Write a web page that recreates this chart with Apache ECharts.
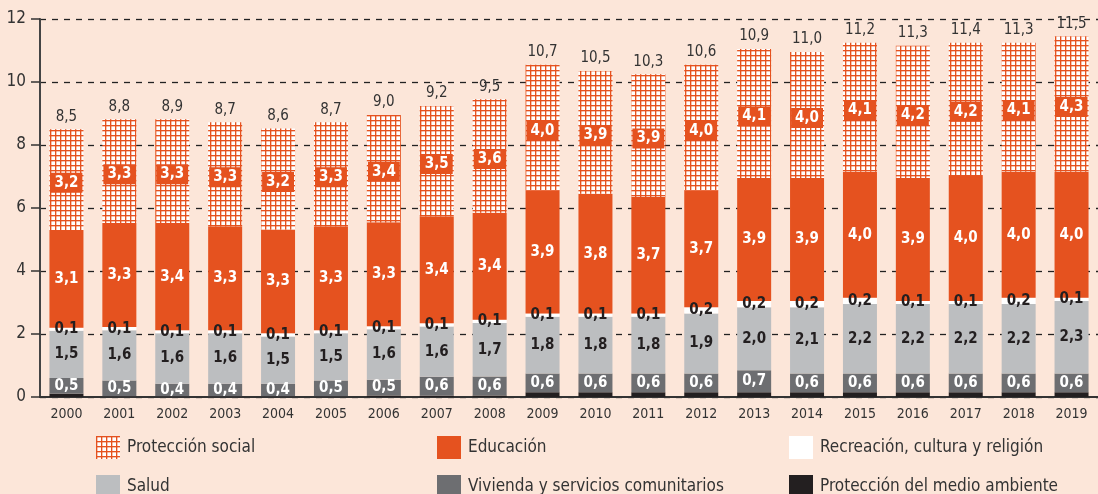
<!DOCTYPE html>
<html>
<head>
<meta charset="utf-8">
<script src="https://cdn.jsdelivr.net/npm/echarts@6/dist/echarts.min.js"></script>
<style>
  html, body { margin: 0; padding: 0; background: #fce6d9; }
  #chart { width: 1098px; height: 494px; }
</style>
</head>
<body>
<div id="chart"></div>
<script>
const years = ['2000', '2001', '2002', '2003', '2004', '2005', '2006', '2007', '2008', '2009',
  '2010', '2011', '2012', '2013', '2014', '2015', '2016', '2017', '2018', '2019']
const ambiente = [0.1, 0.02, 0.02, 0.02, 0.02, 0.02, 0.05, 0.04, 0.05, 0.15,
  0.15, 0.15, 0.15, 0.15, 0.15, 0.15, 0.15, 0.15, 0.15, 0.15]
const vivienda = [0.5, 0.5, 0.4, 0.4, 0.4, 0.5, 0.5, 0.6, 0.6, 0.6,
  0.6, 0.6, 0.6, 0.7, 0.6, 0.6, 0.6, 0.6, 0.6, 0.6]
const salud = [1.5, 1.6, 1.6, 1.6, 1.5, 1.5, 1.6, 1.6, 1.7, 1.8,
  1.8, 1.8, 1.9, 2.0, 2.1, 2.2, 2.2, 2.2, 2.2, 2.3]
const recreacion = [0.1, 0.1, 0.1, 0.1, 0.1, 0.1, 0.1, 0.1, 0.1, 0.1,
  0.1, 0.1, 0.2, 0.2, 0.2, 0.2, 0.1, 0.1, 0.2, 0.1]
const educacion = [3.1, 3.3, 3.4, 3.3, 3.3, 3.3, 3.3, 3.4, 3.4, 3.9,
  3.8, 3.7, 3.7, 3.9, 3.9, 4.0, 3.9, 4.0, 4.0, 4.0]
const proteccion = [3.2, 3.3, 3.3, 3.3, 3.2, 3.3, 3.4, 3.5, 3.6, 4.0,
  3.9, 3.9, 4.0, 4.1, 4.0, 4.1, 4.2, 4.2, 4.1, 4.3]
const totals = [8.5, 8.8, 8.9, 8.7, 8.6, 8.7, 9.0, 9.2, 9.5, 10.7,
  10.5, 10.3, 10.6, 10.9, 11.0, 11.2, 11.3, 11.4, 11.3, 11.5]
const yTicks = [0, 2, 4, 6, 8, 10, 12]

const ORANGE = '#e5521f'
const FONT = '"Liberation Sans Narrow", "DejaVu Sans Condensed", sans-serif'
const fmt = (v) => v.toFixed(1).replace('.', ',')

// hatch pattern for protección social
const hatch = document.createElement('canvas')
hatch.width = 5
hatch.height = 5
const hc = hatch.getContext('2d')
hc.fillStyle = '#ffffff'
hc.fillRect(0, 0, 5, 5)
hc.fillStyle = 'rgba(229, 82, 31, 0.35)'
hc.fillRect(0, 1, 5, 1)
hc.fillRect(1, 0, 1, 5)
hc.fillStyle = ORANGE
hc.fillRect(0, 0, 5, 1)
hc.fillRect(0, 0, 1, 5)

const chart = echarts.init(document.getElementById('chart'))

const segLabel = (color) => ({
  show: true,
  position: 'inside',
  color,
  fontFamily: FONT,
  fontWeight: 'bold',
  fontSize: 15,
  formatter: (p) => fmt(p.value),
})

const bar = (name, data, color, label) => ({
  name,
  type: 'bar',
  stack: 'total',
  data,
  barWidth: 34,
  itemStyle: { color },
  label: label || { show: false },
  emphasis: { disabled: true },
})

const legendItems = [
  ['Protección social', 96, 436],
  ['Educación', 437, 436],
  ['Recreación, cultura y religión', 789, 436],
  ['Salud', 96, 475],
  ['Vivienda y servicios comunitarios', 437, 475],
  ['Protección del medio ambiente', 789, 475],
]

chart.setOption({
  animation: false,
  backgroundColor: '#fce6d9',
  textStyle: { fontFamily: FONT },
  legend: legendItems.map(([name, left, top]) => ({
    data: [name],
    left,
    top,
    padding: 0,
    itemWidth: 24,
    itemHeight: 23,
    itemGap: 8,
    icon: 'rect',
    selectedMode: false,
    textStyle: { fontFamily: FONT, fontSize: 17, color: '#333', padding: [0, 0, 0, 2] },
  })),
  grid: { left: 40, top: 19, width: 1068, bottom: 97 },
  xAxis: {
    type: 'category',
    data: years,
    axisLine: { lineStyle: { color: '#333', width: 2 } },
    axisTick: { show: false },
    axisLabel: { color: '#333', fontSize: 14, fontFamily: FONT, margin: 10 },
  },
  yAxis: {
    type: 'value',
    min: 0,
    max: 12,
    interval: 2,
    axisLine: { show: true, lineStyle: { color: '#444', width: 2 } },
    axisTick: { show: true, length: 9, lineStyle: { color: '#333', width: 1.5 } },
    axisLabel: {
      color: '#333', fontSize: 17, fontFamily: FONT, margin: 14,
      formatter: (v) => (yTicks.includes(v) ? String(v) : ''),
    },
    splitLine: { lineStyle: { color: '#222', type: [6, 6], width: 1.3 } },
  },
  series: [
    bar('Protección del medio ambiente', ambiente, '#231f20'),
    bar('Vivienda y servicios comunitarios', vivienda, '#6d6e71', segLabel('#ffffff')),
    bar('Salud', salud, '#bcbec0', segLabel('#231f20')),
    bar('Recreación, cultura y religión', recreacion, '#ffffff', segLabel('#231f20')),
    bar('Educación', educacion, ORANGE, segLabel('#ffffff')),
    bar('Protección social', proteccion, { image: hatch, repeat: 'repeat' }, {
      show: true,
      position: 'inside',
      offset: [0, 3],
      color: '#ffffff',
      fontFamily: FONT,
      fontWeight: 'bold',
      fontSize: 15,
      backgroundColor: ORANGE,
      padding: [3, 4, 2, 4],
      formatter: (p) => fmt(p.value),
    }),
    {
      name: 'total',
      type: 'bar',
      stack: 'total',
      barWidth: 34,
      data: totals.map(() => 0),
      itemStyle: { color: 'transparent' },
      label: {
        show: true,
        position: 'top',
        distance: 5,
        color: '#333',
        fontFamily: FONT,
        fontSize: 15,
        formatter: (p) => fmt(totals[p.dataIndex]),
      },
      emphasis: { disabled: true },
    },
  ],
})
</script>
</body>
</html>
